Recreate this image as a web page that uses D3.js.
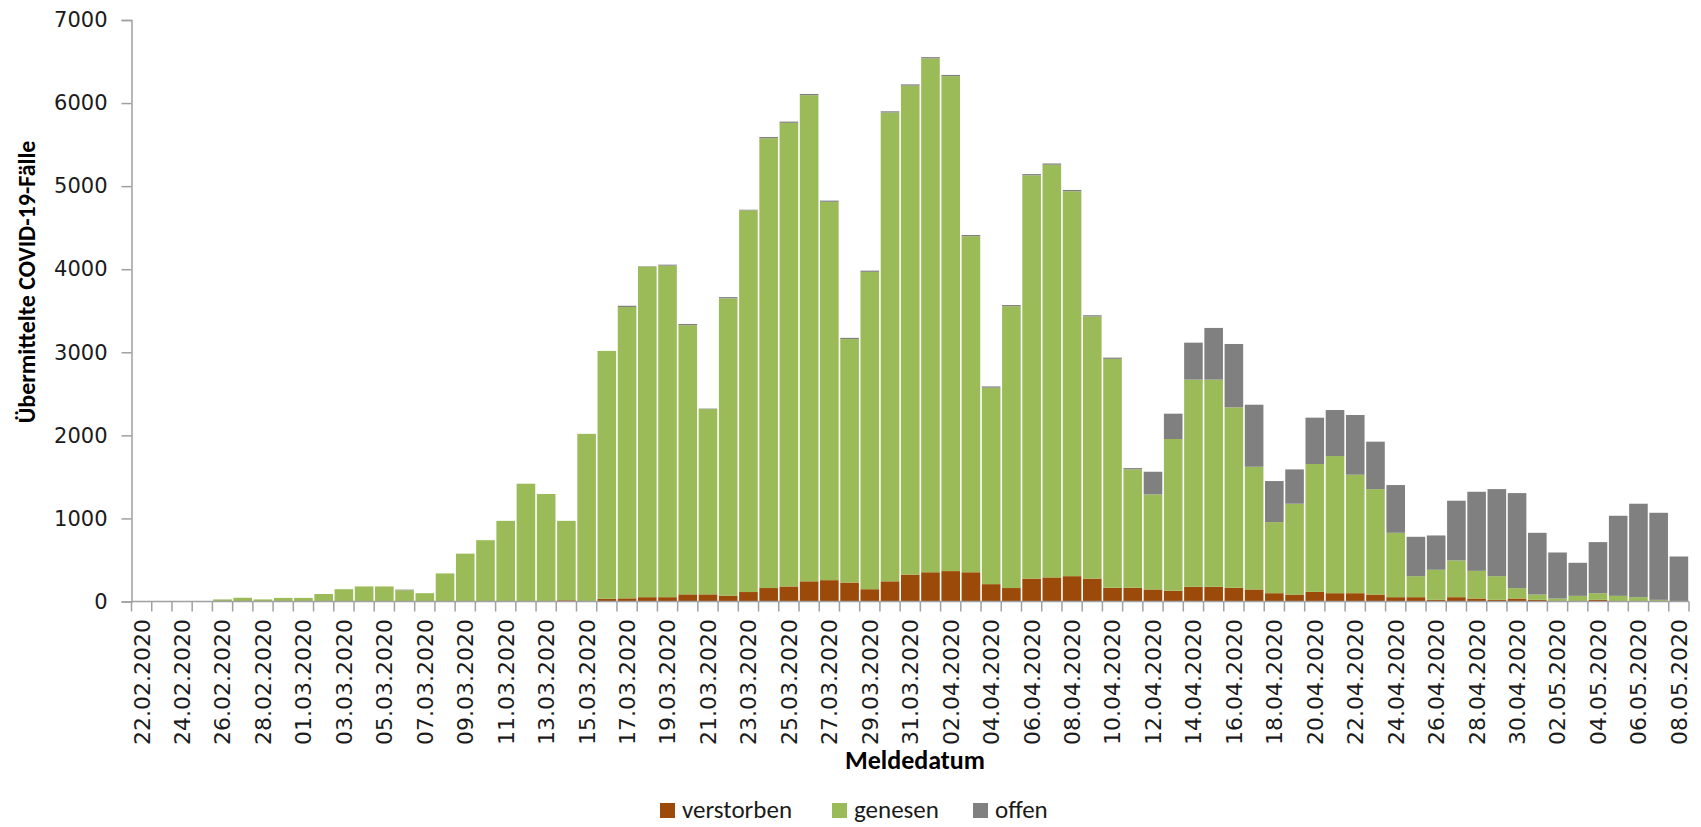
<!DOCTYPE html>
<html><head><meta charset="utf-8">
<script src="https://cdn.jsdelivr.net/npm/d3@7/dist/d3.min.js"></script>
<style>body{margin:0;background:#fff}svg{display:block}</style>
</head><body><svg id="c" width="1701" height="827"></svg>
<script>
const dates = ["22.02.2020","23.02.2020","24.02.2020","25.02.2020","26.02.2020","27.02.2020","28.02.2020","29.02.2020",
"01.03.2020","02.03.2020","03.03.2020","04.03.2020","05.03.2020","06.03.2020","07.03.2020","08.03.2020","09.03.2020","10.03.2020",
"11.03.2020","12.03.2020","13.03.2020","14.03.2020","15.03.2020","16.03.2020","17.03.2020","18.03.2020","19.03.2020","20.03.2020",
"21.03.2020","22.03.2020","23.03.2020","24.03.2020","25.03.2020","26.03.2020","27.03.2020","28.03.2020","29.03.2020","30.03.2020","31.03.2020",
"01.04.2020","02.04.2020","03.04.2020","04.04.2020","05.04.2020","06.04.2020","07.04.2020","08.04.2020","09.04.2020","10.04.2020",
"11.04.2020","12.04.2020","13.04.2020","14.04.2020","15.04.2020","16.04.2020","17.04.2020","18.04.2020","19.04.2020","20.04.2020",
"21.04.2020","22.04.2020","23.04.2020","24.04.2020","25.04.2020","26.04.2020","27.04.2020","28.04.2020","29.04.2020","30.04.2020",
"01.05.2020","02.05.2020","03.05.2020","04.05.2020","05.05.2020","06.05.2020","07.05.2020","08.05.2020"];

const verstorben = [0,0,0,0,0,0,0,0,0,0,0,0,0,0,0,0,0,0,0,0,0,15,2,33,38,52,52,86,86,71,114,162,181,243,257,228,148,243,324,
352,366,352,209,162,276,290,305,276,165,165,145,129,177,177,165,145,100,84,116,100,100,84,52,52,20,52,36,20,36,
20,4,2,20,3,2,0,0];

const genesen = [1,0,1,2,25,45,25,43,43,90,148,181,181,135,100,338,576,738,971,1418,1294,956,2016,2984,3507,3979,3991,3240,
2231,3578,4594,5415,5581,5852,4554,2931,3820,5643,5886,6186,5958,4045,2365,3392,4854,4968,4634,3155,2756,1426,1144,1827,
2494,2494,2172,1477,856,1093,1539,1651,1426,1269,775,253,362,442,333,285,125,64,32,66,80,65,50,20,0];

const offen = [0,0,0,0,0,0,0,0,0,0,0,0,0,8,0,0,0,0,0,0,0,0,0,0,15,5,12,15,5,15,8,15,15,15,15,15,15,15,15,15,15,15,15,15,15,15,15,15,15,15,
273,305,445,622,763,747,494,413,558,554,719,571,575,474,413,719,952,1048,1144,743,554,398,615,964,1125,1048,542];

const seriesNames = ["verstorben","genesen","offen"];
const seriesColors = ["#9C4A09","#9BBB59","#808080"];
const yTicks = [0,1000,2000,3000,4000,5000,6000,7000];

const svg = d3.select("#c");
const X0 = 131.5, X1 = 1689, Y0 = 601.5, YT = 20;

const rows = dates.map((d,i)=>({date:d, verstorben:verstorben[i], genesen:genesen[i], offen:offen[i]}));
const stack = d3.stack().keys(seriesNames)(rows);

const x = d3.scaleBand().domain(dates).range([X0, X1]).paddingInner(0.08).paddingOuter(0.04);
const y = d3.scaleLinear().domain([0,7000]).range([Y0, YT]);
const color = d3.scaleOrdinal().domain(seriesNames).range(seriesColors);

// bars
svg.append("g").selectAll("g").data(stack).join("g")
  .attr("fill", d=>color(d.key))
  .selectAll("rect").data(d=>d).join("rect")
  .attr("x", d=>x(d.data.date))
  .attr("width", x.bandwidth())
  .attr("y", d=>y(d[1]))
  .attr("height", d=>Math.max(0, y(d[0]) - y(d[1])));

const axisColor = "#a0a0a0";
// y axis
const yAxis = svg.append("g").attr("transform",`translate(${X0},0)`)
  .call(d3.axisLeft(y).tickValues(yTicks).tickSize(10).tickPadding(14).tickFormat(d3.format("d")));
yAxis.select(".domain").attr("stroke",axisColor).attr("stroke-width",1.5);
yAxis.selectAll(".tick line").attr("stroke",axisColor).attr("stroke-width",1.5);
yAxis.selectAll("text").attr("font-family","'DejaVu Sans'").attr("font-size",21).attr("fill","#1a1a1a");

// x axis: ticks at category boundaries
const step = (X1 - X0) / dates.length;
const xg = svg.append("g");
xg.append("line").attr("x1",X0).attr("x2",X1).attr("y1",Y0).attr("y2",Y0)
  .attr("stroke",axisColor).attr("stroke-width",1.5);
xg.selectAll("line.tk").data(d3.range(dates.length+1)).join("line").attr("class","tk")
  .attr("x1",i=>X0+i*step).attr("x2",i=>X0+i*step).attr("y1",Y0).attr("y2",Y0+10)
  .attr("stroke",axisColor).attr("stroke-width",1.5);
xg.selectAll("text").data(dates.filter((d,i)=>i%2===0)).join("text")
  .attr("transform", d=>`translate(${x(d)+x.bandwidth()/2},619) rotate(-90)`)
  .attr("text-anchor","end").attr("dy","0.36em")
  .attr("font-family","'DejaVu Sans'").attr("font-size",22).attr("fill","#1a1a1a")
  .text(d=>d);

// axis titles
svg.append("text").attr("transform","translate(35,282) rotate(-90)")
  .attr("text-anchor","middle").attr("font-family","Carlito, Lato, sans-serif")
  .attr("font-weight","bold").attr("font-size",24).attr("fill","#000")
  .text("Übermittelte COVID-19-Fälle");
svg.append("text").attr("x",915).attr("y",769)
  .attr("text-anchor","middle").attr("font-family","Carlito, Lato, sans-serif")
  .attr("font-weight","bold").attr("font-size",26).attr("fill","#000")
  .text("Meldedatum");

// legend
const legX = [660, 832, 973];
const lg = svg.append("g");
seriesNames.forEach((n,i)=>{
  lg.append("rect").attr("x",legX[i]).attr("y",803).attr("width",15).attr("height",15).attr("fill",seriesColors[i]);
  lg.append("text").attr("x",legX[i]+22).attr("y",818)
    .attr("font-family","Carlito, Lato, sans-serif").attr("font-size",25).attr("fill","#1a1a1a").text(n);
});
</script></body></html>
